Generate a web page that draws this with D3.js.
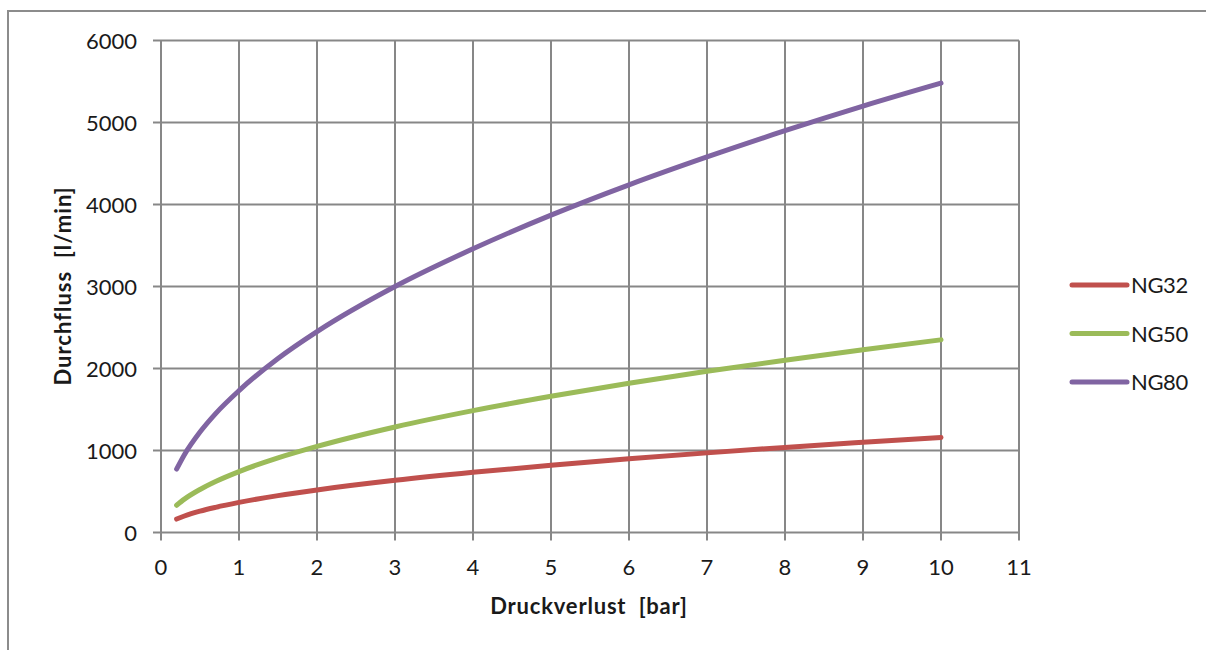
<!DOCTYPE html>
<html>
<head>
<meta charset="utf-8">
<script src="https://cdn.jsdelivr.net/npm/d3@7"></script>
<style>
	body { margin: 0; background: #fff; }
	text { font-family: Lato, "Open Sans", sans-serif; fill: #1a1a1a; }
</style>
</head>
<body>
<svg id="chart" width="1206" height="650"></svg>
<script>
// pressure loss [bar]
var druck = [0.2, 0.3, 0.5, 0.7, 1, 1.5, 2, 3, 4, 5, 6, 7, 8, 9, 10]
// flow [l/min] per nominal size
var ng32 = [164, 201, 260, 307, 367, 450, 519, 636, 734, 820, 899, 971, 1038, 1100, 1160]
var ng50 = [332, 407, 525, 622, 743, 910, 1050, 1287, 1486, 1661, 1820, 1966, 2101, 2229, 2350]
var ng80 = [773, 949, 1225, 1450, 1730, 2122, 2450, 3000, 3460, 3870, 4240, 4580, 4900, 5200, 5480]

var series_names = ["NG32", "NG50", "NG80"]
var series_colours = ["#C0504D", "#9BBB59", "#8064A2"]
var x_ticks = d3.range(0, 12)
var y_ticks = [0, 1000, 2000, 3000, 4000, 5000, 6000]

var svg = d3.select("#chart")
var grid_colour = "#878787"

// outer chart frame
svg.append("path")
	.attr("d", "M8,650 L8,11 L1206,11")
	.attr("fill", "none")
	.attr("stroke", "#8c8c8c")
	.attr("stroke-width", 2)

var x = d3.scaleLinear().domain([0, 11]).range([161, 1019])
var y = d3.scaleLinear().domain([0, 6000]).range([532.5, 40.5])

// grid
svg.append("g").selectAll("line").data(x_ticks).enter().append("line")
	.attr("x1", function(d) {return x(d)})
	.attr("x2", function(d) {return x(d)})
	.attr("y1", y(6000))
	.attr("y2", y(0) + 8)
	.attr("stroke", grid_colour)
	.attr("stroke-width", 2)

svg.append("g").selectAll("line").data(y_ticks).enter().append("line")
	.attr("x1", x(0) - 8)
	.attr("x2", x(11))
	.attr("y1", function(d) {return y(d)})
	.attr("y2", function(d) {return y(d)})
	.attr("stroke", grid_colour)
	.attr("stroke-width", 2)

// tick labels
svg.append("g").selectAll("text").data(x_ticks).enter().append("text")
	.attr("x", function(d) {return x(d)})
	.attr("y", 575)
	.attr("text-anchor", "middle")
	.attr("font-size", 22)
	.text(function(d) {return d})

svg.append("g").selectAll("text").data(y_ticks).enter().append("text")
	.attr("x", 137)
	.attr("y", function(d) {return y(d) + 8})
	.attr("text-anchor", "end")
	.attr("font-size", 22)
	.text(function(d) {return d})

// axis titles
svg.append("text")
	.attr("x", 589)
	.attr("y", 614)
	.attr("text-anchor", "middle")
	.attr("font-size", 22)
	.attr("font-weight", "bold")
	.attr("letter-spacing", 0.8)
	.attr("xml:space", "preserve")
	.text("Druckverlust  [bar]")

svg.append("text")
	.attr("transform", "translate(71," + 286 + ") rotate(-90)")
	.attr("text-anchor", "middle")
	.attr("font-size", 22)
	.attr("font-weight", "bold")
	.attr("letter-spacing", 1)
	.attr("xml:space", "preserve")
	.text("Durchfluss  [l/min]")

// curves
var all_series = [ng32, ng50, ng80]
var line = d3.line()
	.x(function(d) {return x(d[0])})
	.y(function(d) {return y(d[1])})
	.curve(d3.curveMonotoneX)

svg.append("g").selectAll("path").data(all_series).enter().append("path")
	.attr("d", function(d) {return line(d3.zip(druck, d))})
	.attr("fill", "none")
	.attr("stroke", function(d, i) {return series_colours[i]})
	.attr("stroke-width", 5)
	.attr("stroke-linecap", "round")
	.attr("stroke-linejoin", "round")

// legend
var legend = svg.append("g").attr("transform", "translate(1072,285)")
var legend_items = legend.selectAll("g").data(series_names).enter().append("g")
	.attr("transform", function(d, i) {return "translate(0," + (i * 48.5) + ")"})

legend_items.append("line")
	.attr("x1", 0)
	.attr("x2", 55)
	.attr("stroke", function(d, i) {return series_colours[i]})
	.attr("stroke-width", 5)
	.attr("stroke-linecap", "round")

legend_items.append("text")
	.attr("x", 59)
	.attr("y", 8)
	.attr("font-size", 22)
	.attr("letter-spacing", -0.4)
	.text(function(d) {return d})
</script>
</body>
</html>
